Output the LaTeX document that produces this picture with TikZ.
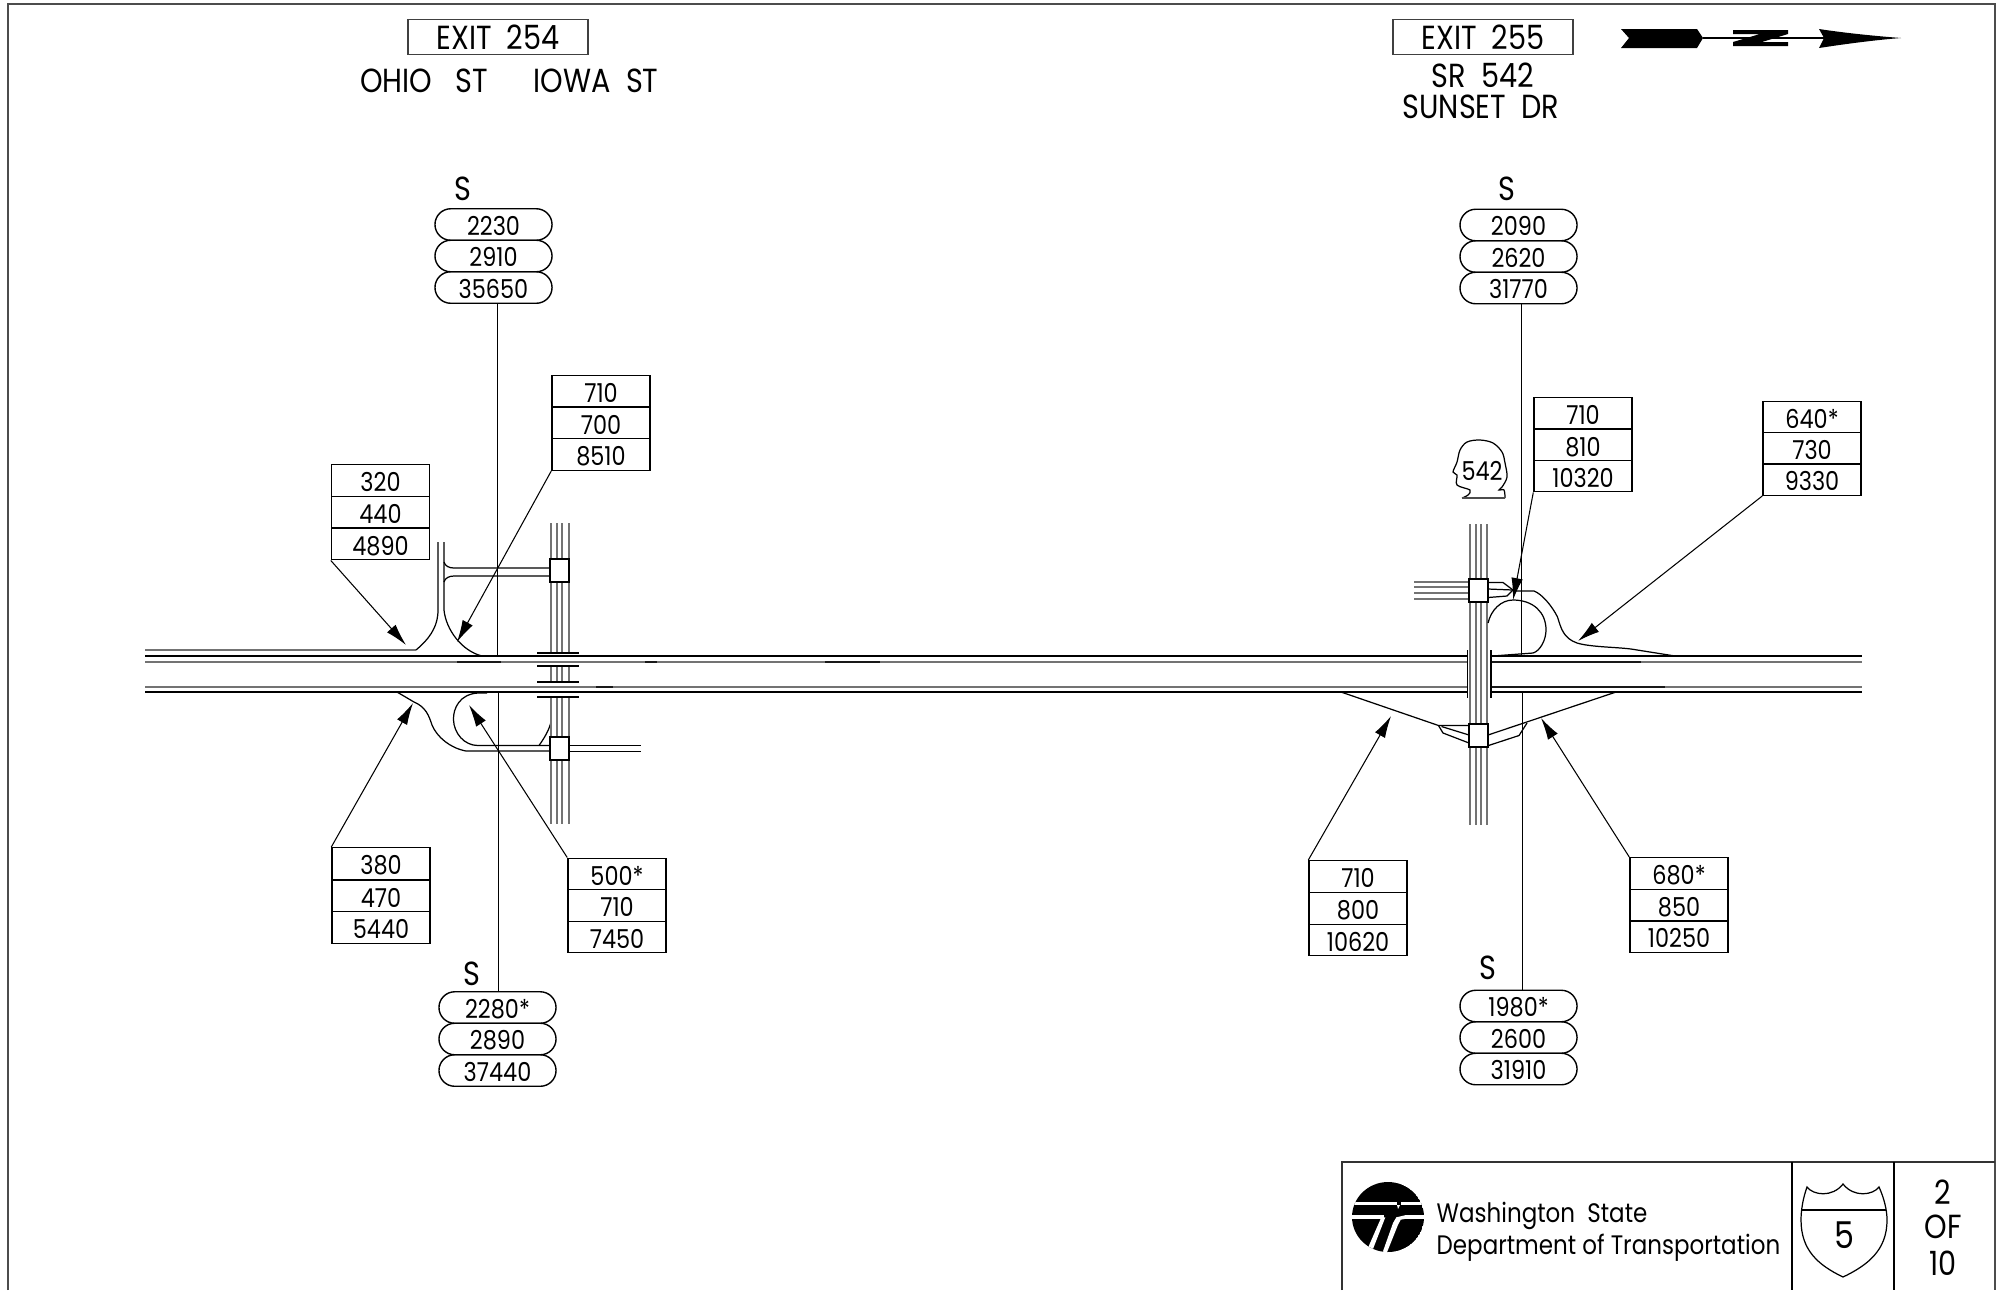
\documentclass[tikz,border=0pt]{standalone}
\usepackage{fontspec}
\setmainfont[FakeStretch=0.86]{Poppins}
\usetikzlibrary{arrows.meta}
\usetikzlibrary{shapes.misc}
\tikzset{
  cell/.style={draw,inner sep=0pt,minimum width=0.98cm,minimum height=0.315cm,text height=2.2mm,text depth=0pt,font=\fontsize{7.4}{8}\selectfont},
  oval/.style={draw,rounded rectangle,inner sep=0pt,minimum width=1.17cm,minimum height=0.315cm,text height=2.1mm,text depth=0pt,font=\fontsize{7.4}{8}\selectfont},
  exitbox/.style={draw,black!75,text=black,inner sep=0pt,minimum width=1.8cm,minimum height=0.355cm,font=\fontsize{9.5}{10}\selectfont},
  label/.style={inner sep=0pt,font=\fontsize{9.5}{10}\selectfont},
  lead/.style={line width=0.3pt,-{Latex[length=0.22cm,width=0.115cm]}},
  road/.style={line width=0.35pt},
  lane/.style={line width=0.5pt,black!55},
  darklane/.style={line width=0.4pt,black!90},
  junct/.style={draw,fill=white,inner sep=0pt,minimum width=0.19cm,minimum height=0.23cm,line width=0.35pt},
}
\begin{document}
\begin{tikzpicture}[x=0.01cm,y=-0.01cm]
      \useasboundingbox (0, 0) rectangle (2001, 1290);
      \draw[line width=0.5pt,black!70] (8, 1290) -- (8, 4) -- (1995, 4) -- (1995, 1290);

      \node[exitbox] (exitA) at (498, 37) {EXIT\ \ 254};
      \node[exitbox] (exitB) at (1483, 37) {EXIT\ \ 255};
      \node[label] (ohio) at (424, 81) {OHIO\ \ \ ST};
      \node[label] (iowa) at (596, 81) {IOWA\ \ ST};
      \node[label] (sr) at (1483, 75) {SR\ \ 542};
      \node[label] (sunset) at (1481, 107) {SUNSET\ \ DR};

      \fill (1621, 29) -- (1697, 29) -- (1703, 38) -- (1697, 48) -- (1621, 48) -- (1629, 38) -- cycle;
      \draw[line width=0.35pt] (1703, 38) -- (1824, 38);
      \fill (1733, 30) -- (1788, 30) -- (1788, 34) -- (1762, 42) -- (1788, 42) -- (1788, 46) -- (1733, 46) -- (1733, 42) -- (1760, 34) -- (1733, 34) -- cycle;
      \fill (1819, 29) .. controls (1845, 33) and (1875, 36) .. (1901, 38) .. controls (1875, 40) and (1845, 44) .. (1819, 48) -- (1824, 38) -- cycle;

      \node[label] (sA) at (463, 189) {S};
      \node[oval] (a1) at (493.5, 224.5) {2230};
      \node[oval] (a2) at (493.5, 256) {2910};
      \node[oval] (a3) at (493.5, 287.5) {35650};
      \node[label] (sB) at (472, 974) {S};
      \node[oval] (b1) at (497.5, 1007.5) {2280*};
      \node[oval] (b2) at (497.5, 1039) {2890};
      \node[oval] (b3) at (497.5, 1070.5) {37440};
      \node[label] (sC) at (1507, 189) {S};
      \node[oval] (c1) at (1518.5, 225) {2090};
      \node[oval] (c2) at (1518.5, 256.5) {2620};
      \node[oval] (c3) at (1518.5, 288) {31770};
      \node[label] (sD) at (1488, 968) {S};
      \node[oval] (d1) at (1518.5, 1006) {1980*};
      \node[oval] (d2) at (1518.5, 1037.5) {2600};
      \node[oval] (d3) at (1518.5, 1069) {31910};

      \node[cell] (e1) at (601, 391) {710};
      \node[cell] (e2) at (601, 423) {700};
      \node[cell] (e3) at (601, 454.5) {8510};
      \node[cell] (f1) at (380.5, 480.5) {320};
      \node[cell] (f2) at (380.5, 512) {440};
      \node[cell] (f3) at (380.5, 544) {4890};
      \node[cell] (g1) at (381, 863.5) {380};
      \node[cell] (g2) at (381, 896) {470};
      \node[cell] (g3) at (381, 927.5) {5440};
      \node[cell] (h1) at (617, 874) {500*};
      \node[cell] (h2) at (617, 905.5) {710};
      \node[cell] (h3) at (617, 937) {7450};
      \node[cell] (i1) at (1583, 413) {710};
      \node[cell] (i2) at (1583, 445) {810};
      \node[cell] (i3) at (1583, 476) {10320};
      \node[cell] (j1) at (1812, 417) {640*};
      \node[cell] (j2) at (1812, 448.5) {730};
      \node[cell] (j3) at (1812, 479.5) {9330};
      \node[cell] (k1) at (1358, 876.5) {710};
      \node[cell] (k2) at (1358, 908.5) {800};
      \node[cell] (k3) at (1358, 940) {10620};
      \node[cell] (l1) at (1679, 873.5) {680*};
      \node[cell] (l2) at (1679, 905.5) {850};
      \node[cell] (l3) at (1679, 936.5) {10250};

      \coordinate (tipE) at (457, 642);
      \coordinate (tipF) at (406, 645);
      \coordinate (tipG) at (413, 703);
      \coordinate (tipH) at (469, 705);
      \coordinate (tipI) at (1513, 600);
      \coordinate (tipJ) at (1578, 641);
      \coordinate (tipK) at (1391, 716);
      \coordinate (tipL) at (1541, 718);
      \draw[lead] (e3.south west) -- (tipE);
      \draw[lead] (f3.south west) -- (tipF);
      \draw[lead] (g1.north west) -- (tipG);
      \draw[lead] (h1.north west) -- (tipH);
      \draw[lead] (i3.south west) -- (tipI);
      \draw[lead] (j3.south west) -- (tipJ);
      \draw[lead] (k1.north west) -- (tipK);
      \draw[lead] (l1.north west) -- (tipL);

      \coordinate (stopA) at (497.6, 656);
      \coordinate (stopB) at (498.4, 692);
      \coordinate (stopC) at (1521.6, 656);
      \coordinate (stopD) at (1522.4, 692);
      \draw[line width=0.3pt] (a3.south -| stopA) -- (stopA);
      \draw[line width=0.3pt] (stopB) -- (b1.north -| stopB);
      \draw[line width=0.3pt] (c3.south -| stopC) -- (stopC);
      \draw[line width=0.3pt] (stopD) -- (d1.north -| stopD);

      \draw[road] (145, 656) -- (1467, 656);
      \draw[road] (1491, 656) -- (1862, 656);
      \draw[road] (145, 692) -- (1467, 692);
      \draw[road] (1491, 692) -- (1862, 692);
      \draw[lane] (145, 662) -- (1467, 662);
      \draw[lane] (1491, 662) -- (1862, 662);
      \draw[lane] (145, 687) -- (1467, 687);
      \draw[lane] (1491, 687) -- (1862, 687);
      \draw[darklane] (457, 662) -- (501, 662);
      \draw[darklane] (1491, 662) -- (1641, 662);
      \draw[darklane] (1491, 687) -- (1665, 687);
      \draw[darklane] (596, 687) -- (613, 687);
      \draw[darklane] (825, 662) -- (880, 662);
      \draw[darklane] (645, 662) -- (657, 662);

      \draw[lane] (145, 650) -- (416, 650);
      \draw[road] (416, 650) .. controls (428, 640) and (438, 628) .. (438, 610) -- (438, 542);
      \draw[road] (444, 542) -- (444, 610) .. controls (446, 630) and (462, 651) .. (482, 656);
      \draw[road] (444, 562) .. controls (445, 566) and (449, 568) .. (454, 568) -- (550, 568);
      \draw[road] (444, 582) .. controls (445, 578) and (449, 576) .. (454, 576) -- (550, 576);

      \draw[road] (397, 692) -- (414, 702) .. controls (426, 707) and (429, 716) .. (432, 725) .. controls (437, 737) and (450, 748) .. (466, 751) -- (550, 751);
      \draw[road] (487, 693) -- (478, 693) .. controls (460, 694) and (453, 708) .. (453.5, 720) .. controls (454, 733) and (464, 745.5) .. (478, 745.5) -- (550, 745.5);
      \draw[road] (539, 745.5) .. controls (545, 737) and (549, 730) .. (551, 722);
      \draw[road] (569, 745.5) -- (641, 745.5);
      \draw[road] (569, 751.5) -- (641, 751.5);

      \draw[lane] (551, 523) -- (551, 653);
      \draw[lane] (557, 523) -- (557, 653);
      \draw[lane] (562, 523) -- (562, 653);
      \draw[lane] (569, 523) -- (569, 653);
      \draw[lane] (551, 666) -- (551, 682);
      \draw[lane] (557, 666) -- (557, 682);
      \draw[lane] (562, 666) -- (562, 682);
      \draw[lane] (569, 666) -- (569, 682);
      \draw[lane] (551, 697) -- (551, 824);
      \draw[lane] (557, 697) -- (557, 824);
      \draw[lane] (562, 697) -- (562, 824);
      \draw[lane] (569, 697) -- (569, 824);
      \draw[road] (537, 653) -- (579, 653);
      \draw[road] (537, 666) -- (579, 666);
      \draw[road] (537, 682) -- (579, 682);
      \draw[road] (537, 697) -- (579, 697);
      \node[junct] (sqA) at (559.5, 570.5) {};
      \node[junct] (sqB) at (559.5, 748.5) {};

      \draw[lane] (1470, 524) -- (1470, 825);
      \draw[lane] (1476, 524) -- (1476, 825);
      \draw[lane] (1481, 524) -- (1481, 825);
      \draw[lane] (1487, 524) -- (1487, 825);
      \draw[line width=0.35pt] (1467.5, 650) -- (1467.5, 698);
      \draw[line width=0.35pt] (1491, 650) -- (1491, 698);
      \draw[lane] (1414, 582) -- (1469, 582);
      \draw[lane] (1414, 587) -- (1469, 587);
      \draw[lane] (1414, 593) -- (1469, 593);
      \draw[lane] (1414, 599) -- (1469, 599);
      \draw[road] (1488, 582.5) -- (1503, 582.5) -- (1513, 590) -- (1507, 596) -- (1488, 597.5);
      \draw[road] (1488, 589) -- (1513, 590);
      \draw[road] (1488, 623) .. controls (1491, 610) and (1501, 600) .. (1513, 600) .. controls (1533, 600) and (1546, 612) .. (1546, 630) .. controls (1546, 640) and (1540, 651) .. (1533, 653) -- (1492.5, 656);
      \draw[road] (1513, 591) -- (1534, 591) .. controls (1542, 594) and (1552, 606) .. (1557.5, 617) .. controls (1561, 628) and (1563, 638) .. (1577, 643) .. controls (1590, 647) and (1615, 647) .. (1631, 649) -- (1675, 656);
      \draw[road] (1341, 692) -- (1438.5, 725.5) -- (1470, 725.5);
      \draw[road] (1438.5, 725.5) -- (1443, 733) -- (1469, 743);
      \draw[road] (1441.5, 726.5) -- (1469, 735);
      \draw[road] (1616, 692) -- (1488, 735);
      \draw[road] (1488.5, 745.5) -- (1519, 735.5) -- (1527, 723);
      \node[junct] (sqC) at (1478.5, 590.5) {};
      \node[junct] (sqD) at (1478.5, 735.5) {};

      \draw[line width=0.35pt] plot[smooth,tension=0.55] coordinates {(1505, 498) (1504, 490) (1499, 490) (1502, 487) (1507, 477) (1505, 463) (1502, 452) (1493, 443) (1480, 440) (1467, 442) (1460, 450) (1457, 462) (1453, 472) (1457, 475) (1457, 485) (1470, 490) (1468, 495) (1462, 498)};
      \draw[line width=0.7pt,black!70] (1462, 498) -- (1505, 498);
      \node[cell,draw=none,fill=none] (shieldC) at (1482, 469) {542};

      \draw[line width=0.4pt,black!80] (1342, 1290) -- (1342, 1162) -- (1995, 1162);
      \draw[line width=0.35pt] (1792, 1162) -- (1792, 1290);
      \draw[line width=0.35pt] (1894, 1162) -- (1894, 1290);

      \begin{scope}
        \clip (1388, 1217) ellipse (36 and 35);
        \fill (1388, 1217) ellipse (36 and 35);
        \fill[white] (1345, 1202) rectangle (1397, 1205.3);
        \fill[white] (1401, 1202) rectangle (1430, 1205.3);
        \fill[white] (1397, 1205) -- (1400, 1205) -- (1398, 1209) -- cycle;
        \fill[white] (1345, 1215.3) rectangle (1384, 1218.7);
        \fill[white] (1404.7, 1215.3) rectangle (1430, 1218.7);
        \fill[white] (1381.3, 1217.3) -- (1385.3, 1217.3) -- (1371, 1254) -- (1367, 1250) -- cycle;
        \fill[white] (1382, 1254) -- (1393, 1223) -- (1396.3, 1217.3) -- (1404.7, 1215.3) -- (1406, 1218.7) -- (1400.7, 1219.7) -- (1398, 1224.7) -- (1386.3, 1254) -- cycle;
      \end{scope}
      \node[anchor=west,inner sep=0pt,font=\fontsize{7.6}{9}\selectfont] (wsdotA) at (1436, 1216) {Washington\ \ State};
      \node[anchor=west,inner sep=0pt,font=\fontsize{7.6}{9}\selectfont] (wsdotB) at (1436, 1248) {Department of Transportation};

      \draw[line width=0.35pt] (1807, 1187) .. controls (1813, 1195) and (1832, 1198) .. (1843, 1184) .. controls (1854, 1198) and (1873, 1195) .. (1879, 1187) .. controls (1884, 1198) and (1887, 1210) .. (1887, 1220) .. controls (1887, 1250) and (1868, 1265) .. (1843, 1277) .. controls (1818, 1265) and (1801, 1250) .. (1801, 1220) .. controls (1801, 1210) and (1803, 1198) .. (1807, 1187) -- cycle;
      \draw[line width=0.35pt] (1802, 1210) -- (1886, 1210);
      \node[inner sep=0pt,font=\fontsize{10.5}{12}\selectfont] (routeNo) at (1844, 1235) {5};
      \node[label] (pageA) at (1943, 1192) {2};
      \node[label] (pageB) at (1943, 1227) {OF};
      \node[label] (pageC) at (1943, 1263) {10};
    \end{tikzpicture}
\end{document}
